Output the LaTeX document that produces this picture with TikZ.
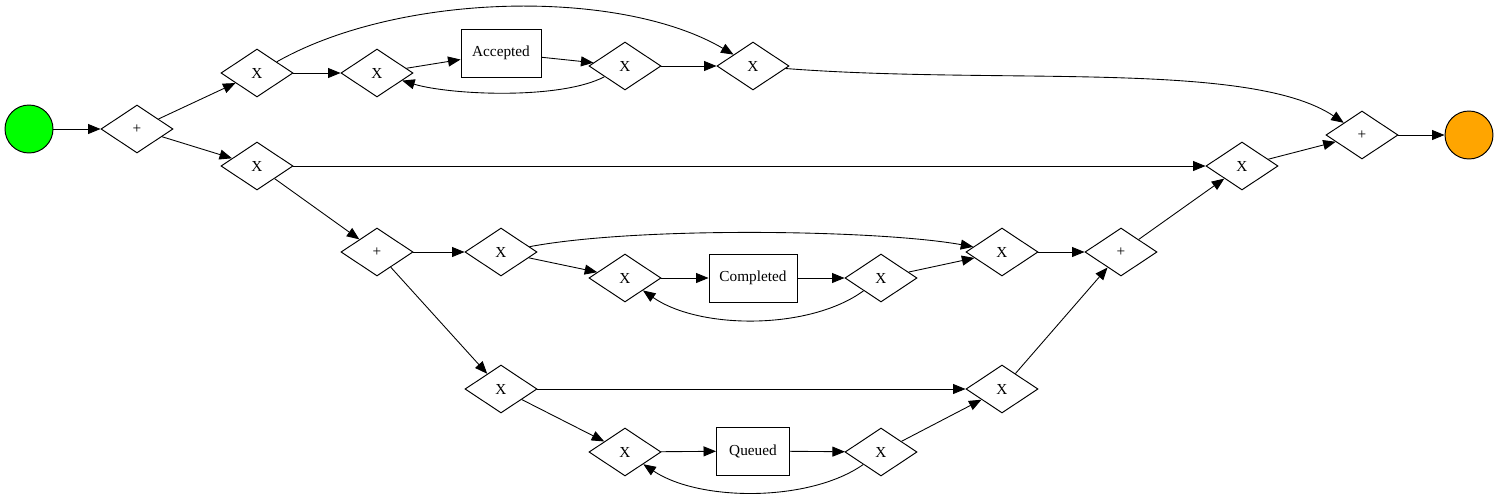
\documentclass[tikz,border=0pt]{standalone}
\usepackage{fontspec}
\setmainfont{Liberation Serif}
\usetikzlibrary{shapes.geometric,arrows.meta}

\begin{document}
\begin{tikzpicture}[x=0.02cm,y=-0.02cm,
                gate/.style={draw=black,diamond,aspect=1.5,minimum width=1.44cm,minimum height=0.96cm,inner sep=0pt,line width=0.55pt,font=\fontsize{8.7}{10}\selectfont},
                task/.style={draw=black,rectangle,minimum height=0.96cm,inner sep=0pt,line width=0.55pt,font=\fontsize{8.7}{10}\selectfont},
                event/.style={draw=black,circle,minimum size=0.96cm,inner sep=0pt,line width=0.55pt},
                flow/.style={draw=black,line width=0.5pt,-{Triangle[length=0.25cm,width=0.2cm]}}]
                %%%  Frame of the picture
                \useasboundingbox (0,0) rectangle (1499,498);
                %%%  Start and end events
                \node[event,fill={rgb,255:red,0;green,255;blue,0}] (start) at (29,129) {};
                \node[event,fill={rgb,255:red,255;green,165;blue,0}] (stop) at (1469,135) {};
                %%%  Top branch
                \node[gate] (split) at (137,129) {+};
                \node[gate] (a1) at (257,73) {X};
                \node[gate] (a2) at (377,73) {X};
                \node[task,minimum width=1.6cm] (accepted) at (501,53) {Accepted};
                \node[gate] (a3) at (625,66) {X};
                \node[gate] (a4) at (753,66) {X};
                \node[gate] (join) at (1362,135) {+};
                %%%  Middle branch
                \node[gate] (b1) at (257,166) {X};
                \node[gate] (b2) at (1242,166) {X};
                \node[gate] (p1) at (377,252) {+};
                \node[gate] (p2) at (1121,252) {+};
                %%%  Completed loop
                \node[gate] (c1) at (501,252) {X};
                \node[gate] (c2) at (625,278) {X};
                \node[task,minimum width=1.76cm] (completed) at (753,278) {Completed};
                \node[gate] (c3) at (881,278) {X};
                \node[gate] (c4) at (1002,252) {X};
                %%%  Queued loop
                \node[gate] (d1) at (501,389) {X};
                \node[gate] (d2) at (625,452) {X};
                \node[task,minimum width=1.46cm] (queued) at (753,451) {Queued};
                \node[gate] (d3) at (881,452) {X};
                \node[gate] (d4) at (1002,389) {X};
                %%%  Straight flows
                \foreach \from/\to in {start/split, split/a1, split/b1, a1/a2, a2/accepted, accepted/a3, a3/a4,
                                       b1/b2, b1/p1, p1/c1, p1/d1, c1/c2, c2/completed, completed/c3, c3/c4, c4/p2,
                                       d1/d4, d1/d2, d2/queued, queued/d3, d3/d4, d4/p2, p2/b2, b2/join, join/stop}
                    \draw[flow] (\from) -- (\to);
                %%%  Curved flows
                \draw[flow] (a1) .. controls (400,-8) and (620,-12) .. (a4);
                \draw[flow] (a4) .. controls (1000,85) and (1250,60) .. (join);
                \draw[flow] (a3) .. controls (560,100) and (450,95) .. (a2);
                \draw[flow] (c1) .. controls (640,226) and (880,230) .. (c4);
                \draw[flow] (c3) .. controls (810,330) and (700,330) .. (c2);
                \draw[flow] (d3) .. controls (810,502) and (700,502) .. (d2);
\end{tikzpicture}
\end{document}
